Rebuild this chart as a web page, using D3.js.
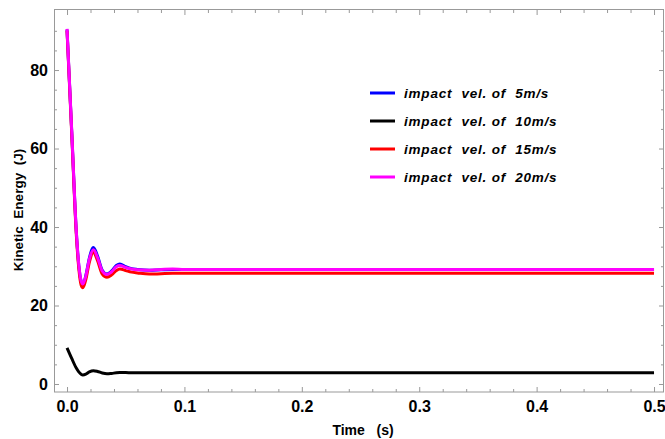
<!DOCTYPE html>
<html>
<head>
<meta charset="utf-8">
<script src="https://cdn.jsdelivr.net/npm/d3@7"></script>
<style>
  body { margin: 0; background: #fff; }
  text { font-family: "Liberation Sans", Arial, sans-serif; }
</style>
</head>
<body>
<script>
// time samples (s)
var times = [0, 0.004, 0.008, 0.010, 0.012, 0.0135, 0.016, 0.019, 0.0225, 0.026, 0.030, 0.034, 0.038, 0.042, 0.045, 0.05, 0.055, 0.06, 0.07, 0.08, 0.09, 0.1, 0.2, 0.3, 0.4, 0.5];

// kinetic energy (J)
var ke5  = [90.3, 64.3, 38.3, 30.3, 26.2, 25.4, 27.6, 32.1, 34.8, 32.6, 29.0, 28.0, 28.8, 30.2, 30.6, 29.9, 29.4, 29.2, 29.0, 29.1, 29.2, 29.2, 29.2, 29.2, 29.2, 29.2];
var ke10 = [9.2, 6.5, 4.0, 3.1, 2.5, 2.3, 2.5, 3.1, 3.4, 3.2, 2.8, 2.6, 2.7, 2.85, 2.9, 2.9, 2.85, 2.85, 2.85, 2.85, 2.85, 2.85, 2.85, 2.85, 2.85, 2.85];
var ke15 = [90.0, 63.8, 37.6, 29.5, 25.2, 24.5, 26.6, 31.0, 33.6, 31.4, 28.0, 27.2, 27.8, 28.9, 29.3, 28.9, 28.5, 28.3, 28.0, 28.1, 28.2, 28.2, 28.2, 28.2, 28.2, 28.2];
var ke20 = [90.5, 64.5, 38.5, 30.5, 26.3, 25.5, 27.5, 31.8, 34.2, 32.2, 28.8, 27.9, 28.6, 29.9, 30.2, 29.7, 29.3, 29.1, 29.0, 29.2, 29.3, 29.2, 29.2, 29.2, 29.2, 29.2];

var seriesNames = ["impact  vel. of  5m/s", "impact  vel. of  10m/s", "impact  vel. of  15m/s", "impact  vel. of  20m/s"];
var seriesColors = ["#0000ff", "#000000", "#ff0000", "#ff00ff"];
var seriesData = [ke5, ke10, ke15, ke20];

var xTicks = [0, 0.1, 0.2, 0.3, 0.4, 0.5];
var yTicks = [0, 20, 40, 60, 80];

var width = 665, height = 439;

var svg = d3.select("body").append("svg")
    .attr("width", width)
    .attr("height", height);

var x = d3.scaleLinear().domain([-0.0111, 0.5085]).range([54, 664]);
var y = d3.scaleLinear().domain([-2.04, 95.3]).range([392, 10]);

var frameColor = "#999";

// minor ticks
var xMinor = d3.range(0, 0.5001, 0.02).filter(function (d) { return Math.abs(d * 10 - Math.round(d * 10)) > 1e-6; });
var yMinor = d3.range(0, 95, 5).filter(function (d) { return d % 20 !== 0; });

function styleAxis(g) {
  g.select(".domain").remove();
  g.selectAll(".tick line").attr("stroke", frameColor);
  g.selectAll(".tick text")
    .attr("fill", "#000")
    .style("font-size", "16px")
    .style("font-weight", "bold");
}

// bottom
svg.append("g")
    .attr("transform", "translate(0,392)")
    .call(d3.axisBottom(x).tickValues(xMinor).tickSizeInner(-3).tickSizeOuter(0).tickFormat(""))
    .call(styleAxis);
svg.append("g")
    .attr("transform", "translate(0,392)")
    .call(d3.axisBottom(x).tickValues(xTicks).tickSizeInner(-5).tickSizeOuter(0).tickPadding(9).tickFormat(d3.format(".1f")))
    .call(styleAxis);
// top
svg.append("g")
    .attr("transform", "translate(0,10)")
    .call(d3.axisTop(x).tickValues(xMinor).tickSizeInner(-3).tickSizeOuter(0).tickFormat(""))
    .call(styleAxis);
svg.append("g")
    .attr("transform", "translate(0,10)")
    .call(d3.axisTop(x).tickValues(xTicks).tickSizeInner(-5).tickSizeOuter(0).tickFormat(""))
    .call(styleAxis);
// left
svg.append("g")
    .attr("transform", "translate(54,0)")
    .call(d3.axisLeft(y).tickValues(yMinor).tickSizeInner(-3).tickSizeOuter(0).tickFormat(""))
    .call(styleAxis);
svg.append("g")
    .attr("transform", "translate(54,0)")
    .call(d3.axisLeft(y).tickValues(yTicks).tickSizeInner(-5).tickSizeOuter(0).tickPadding(6))
    .call(styleAxis);
// right
svg.append("g")
    .attr("transform", "translate(664,0)")
    .call(d3.axisRight(y).tickValues(yMinor).tickSizeInner(-3).tickSizeOuter(0).tickFormat(""))
    .call(styleAxis);
svg.append("g")
    .attr("transform", "translate(664,0)")
    .call(d3.axisRight(y).tickValues(yTicks).tickSizeInner(-5).tickSizeOuter(0).tickFormat(""))
    .call(styleAxis);

// frame
svg.append("rect")
    .attr("x", 54.5).attr("y", 9.5)
    .attr("width", 609).attr("height", 382.5)
    .attr("fill", "none")
    .attr("stroke", frameColor)
    .attr("stroke-width", 1);

// lines
var line = d3.line()
    .curve(d3.curveMonotoneX)
    .x(function (d) { return x(d[0]); })
    .y(function (d) { return y(d[1]); });

seriesData.forEach(function (vals, i) {
  var pts = times.map(function (t, j) { return [t, vals[j]]; });
  svg.append("path")
      .datum(pts)
      .attr("d", line)
      .attr("fill", "none")
      .attr("stroke", seriesColors[i])
      .attr("stroke-width", 3)
      .attr("stroke-linejoin", "round");
});

// legend
var legend = svg.append("g").attr("transform", "translate(370,93)");
seriesNames.forEach(function (name, i) {
  var row = legend.append("g").attr("transform", "translate(0," + (i * 28) + ")");
  row.append("line")
      .attr("x1", 0).attr("x2", 25)
      .attr("stroke", seriesColors[i])
      .attr("stroke-width", 3);
  row.append("text")
      .attr("x", 34).attr("y", 5)
      .style("font-size", "13.5px")
      .style("font-weight", "bold")
      .style("font-style", "italic")
      .style("letter-spacing", "0.8px")
      .style("white-space", "pre")
      .text(name);
});

// axis titles
svg.append("text")
    .attr("x", 363).attr("y", 435)
    .attr("text-anchor", "middle")
    .style("font-size", "14px")
    .style("font-weight", "bold")
    .style("white-space", "pre")
    .text("Time   (s)");

svg.append("text")
    .attr("transform", "translate(23,210) rotate(-90)")
    .attr("text-anchor", "middle")
    .style("font-size", "13.5px")
    .style("font-weight", "bold")
    .style("white-space", "pre")
    .text("Kinetic  Energy  (J)");
</script>
</body>
</html>
